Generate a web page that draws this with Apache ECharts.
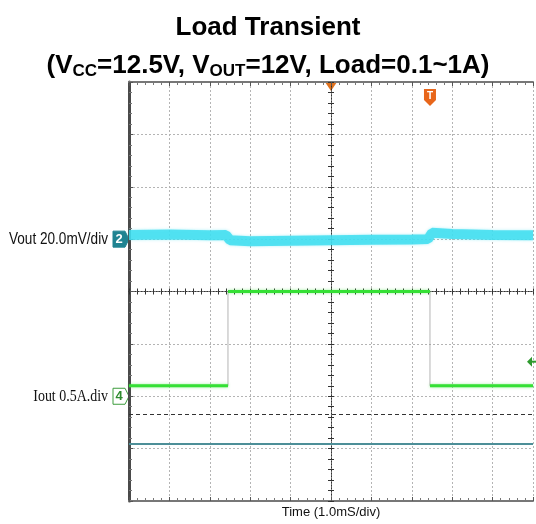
<!DOCTYPE html>
<html>
<head>
<meta charset="utf-8">
<script src="https://cdn.jsdelivr.net/npm/echarts@6/dist/echarts.min.js"></script>
<style>html,body{margin:0;padding:0;background:#fff}#main{width:536px;height:524px}</style>
</head>
<body>
<div id="main"></div>
<script>
// time in ms, Vout ripple in mV (around 12V), Iout in A
var voutTime = [-5, -4, -3, -2.6, -2.5, -2, -1, 0, 1, 2, 2.4, 2.5, 3, 4, 5];
var voutMv   = [1.6, 1.8, 1.5, 1.6, -0.4, -0.8, -0.6, -0.4, -0.2, -0.1, 0, 2.4, 2.0, 1.6, 1.5];
var ioutTime = [-5, -2.55, -2.55, 2.45, 2.45, 5];
var ioutAmp  = [0.1, 0.1, 1.0, 1.0, 0.1, 0.1];

// scope settings
var ch2Scale = 20, ch2Offset = 1;    // mV/div, div
var ch4Scale = 0.5, ch4Offset = -2;  // A/div, div
var trigLevel = 0.33, trigTime = 2.45;
var refLines = [-2.35, -2.9];        // div

var voutData = voutTime.map(function(t, i){ return [t, ch2Offset + voutMv[i] / ch2Scale]; });
var stepData = ioutTime.map(function(t, i){ return [t, ch4Offset + ioutAmp[i] / ch4Scale]; });
var levelData = [];
stepData.forEach(function(p, i){
  if (i > 0 && p[0] === stepData[i-1][0]) levelData.push([p[0], '-']);
  levelData.push(p);
});

var font = "'Liberation Sans', Arial, sans-serif";
var dots = {color: '#b4b4b4', type: [2, 2], width: 1};

function xAx(pos, extra){
  var a = {
    type: 'value', min: -5, max: 5, interval: 1, position: pos,
    axisLabel: {show: false},
    axisLine: {show: true, onZero: false, lineStyle: {color: '#777', width: 2}},
    axisTick: {show: true, inside: true, length: 4, lineStyle: {color: '#555'}},
    minorTick: {show: true, splitNumber: 5, length: 3, lineStyle: {color: '#777'}},
    splitLine: {show: false}
  };
  return Object.assign(a, extra || {});
}
function yAx(pos, extra){
  var a = {
    type: 'value', min: -4, max: 4, interval: 1, position: pos,
    axisLabel: {show: false},
    axisLine: {show: true, onZero: false, lineStyle: {color: '#4a4a4a', width: 3}},
    axisTick: {show: true, inside: true, length: 4, lineStyle: {color: '#555'}},
    minorTick: {show: true, splitNumber: 5, length: 3, lineStyle: {color: '#777'}},
    splitLine: {show: false}
  };
  return Object.assign(a, extra || {});
}
var centerLine = {show: true, onZero: true, lineStyle: {color: '#333', type: [1, 2], width: 1}};

var chart = echarts.init(document.getElementById('main'));
chart.setOption({
  animation: false,
  title: {
    left: 'center', top: 4,
    text: '{m|Load Transient}\n{m|(V}{s|CC}{m|=12.5V, V}{s|OUT}{m|=12V, Load=0.1~1A)}',
    textStyle: {
      rich: {
        m: {fontFamily: font, fontSize: 26, fontWeight: 'bold', color: '#000', lineHeight: 38},
        s: {fontFamily: font, fontSize: 17, fontWeight: 'bold', color: '#000', lineHeight: 17, verticalAlign: 'middle', padding: [10, 0, 0, 0]}
      }
    }
  },
  grid: {left: 129, right: 3, top: 82, bottom: 22},
  xAxis: [
    xAx('bottom', {
      splitLine: {show: true, lineStyle: dots},
      name: 'Time (1.0mS/div)', nameLocation: 'middle', nameGap: 5,
      nameTextStyle: {fontFamily: font, fontSize: 13, color: '#111', verticalAlign: 'top'}
    }),
    xAx('top'),
    xAx('bottom', {axisLine: centerLine, axisTick: {show: true, inside: true, length: 3, lineStyle: {color: '#333'}},
      minorTick: {show: true, splitNumber: 5, length: 3, lineStyle: {color: '#333'}}}),
    xAx('bottom', {axisLine: centerLine, axisTick: {show: true, inside: false, length: 3, lineStyle: {color: '#333'}},
      minorTick: {show: true, splitNumber: 5, length: 3, lineStyle: {color: '#333'}}})
  ],
  yAxis: [
    yAx('left', {splitLine: {show: true, lineStyle: dots}}),
    yAx('left', {axisLine: centerLine, axisTick: {show: true, inside: true, length: 3, lineStyle: {color: '#333'}},
      minorTick: {show: true, splitNumber: 5, length: 3, lineStyle: {color: '#333'}}}),
    yAx('left', {axisLine: centerLine, axisTick: {show: true, inside: false, length: 3, lineStyle: {color: '#333'}},
      minorTick: {show: true, splitNumber: 5, length: 3, lineStyle: {color: '#333'}}})
  ],
  series: [
    {
      name: 'ref', type: 'line', data: [], silent: true,
      markLine: {
        symbol: 'none', silent: true, label: {show: false},
        data: [
          {yAxis: refLines[0], lineStyle: {color: '#333', type: [4, 3], width: 1}},
          {yAxis: refLines[1], lineStyle: {color: '#4d8f98', type: 'solid', width: 2}}
        ]
      }
    },
    {
      name: 'Vout', type: 'line', data: voutData, symbol: 'none',
      lineStyle: {color: 'rgba(64,222,240,0.85)', width: 10, shadowColor: 'rgba(64,222,240,0.5)', shadowBlur: 3}
    },
    {
      name: 'Iout edge', type: 'line', data: stepData, symbol: 'none',
      lineStyle: {color: 'rgba(150,150,150,0.7)', width: 1}
    },
    {
      name: 'Iout', type: 'line', data: levelData, symbol: 'none', connectNulls: false,
      lineStyle: {color: '#35e035', width: 3, shadowColor: 'rgba(60,230,60,0.5)', shadowBlur: 3}
    }
  ]
});

// channel markers placed through the axes
var y2 = chart.convertToPixel({yAxisIndex: 0}, ch2Offset);
var y4 = chart.convertToPixel({yAxisIndex: 0}, ch4Offset);
var yTrig = chart.convertToPixel({yAxisIndex: 0}, ch4Offset + trigLevel / ch4Scale);
var xT = chart.convertToPixel({xAxisIndex: 0}, trigTime);
var x0 = chart.convertToPixel({xAxisIndex: 0}, 0);
var xR = chart.convertToPixel({xAxisIndex: 0}, 5);
var xL = chart.convertToPixel({xAxisIndex: 0}, -5);

function badge(y, fill, stroke, txtColor, label){
  return [
    {type: 'polygon', shape: {points: [[xL-16, y-8], [xL-4, y-8], [xL, y], [xL-4, y+8], [xL-16, y+8]]},
     style: {fill: fill, stroke: stroke, lineWidth: 1}},
    {type: 'text', x: xL-10, y: y, style: {text: label, fill: txtColor, fontFamily: 'Liberation Sans', fontWeight: 'bold', fontSize: 13, align: 'center', verticalAlign: 'middle'}}
  ];
}

chart.setOption({
  graphic: [].concat(
    [{type: 'text', x: xL-21, y: y2, scaleX: 0.8,
      style: {text: 'Vout 20.0mV/div', fill: '#111', fontFamily: 'Liberation Sans', fontSize: 17, align: 'right', verticalAlign: 'middle'}},
     {type: 'text', x: xL-21, y: y4, scaleX: 0.82,
      style: {text: 'Iout 0.5A.div', fill: '#111', fontFamily: 'Liberation Serif', fontSize: 17, align: 'right', verticalAlign: 'middle'}}],
    badge(y2, '#1f8391', '#1f8391', '#fff', '2'),
    badge(y4, '#fff', '#3c9c3c', '#2e8b2e', '4'),
    [{type: 'polygon', shape: {points: [[x0-6, 82], [x0+6, 82], [x0, 91]]}, style: {fill: '#e0721e'}},
     {type: 'polygon', shape: {points: [[xT-6, 89], [xT+6, 89], [xT+6, 100], [xT, 106], [xT-6, 100]]}, style: {fill: '#e8661a'}},
     {type: 'text', x: xT, y: 96, style: {text: 'T', fill: '#fff', fontFamily: 'Liberation Sans', fontWeight: 'bold', fontSize: 10, align: 'center', verticalAlign: 'middle'}},
     {type: 'polygon', shape: {points: [[xR-6, yTrig], [xR-1, yTrig-5], [xR-1, yTrig+5]]}, style: {fill: '#2e9a2e'}},
     {type: 'line', shape: {x1: xR-2, y1: yTrig, x2: xR+3, y2: yTrig}, style: {stroke: '#2e9a2e', lineWidth: 2}}]
  )
});
</script>
</body>
</html>
